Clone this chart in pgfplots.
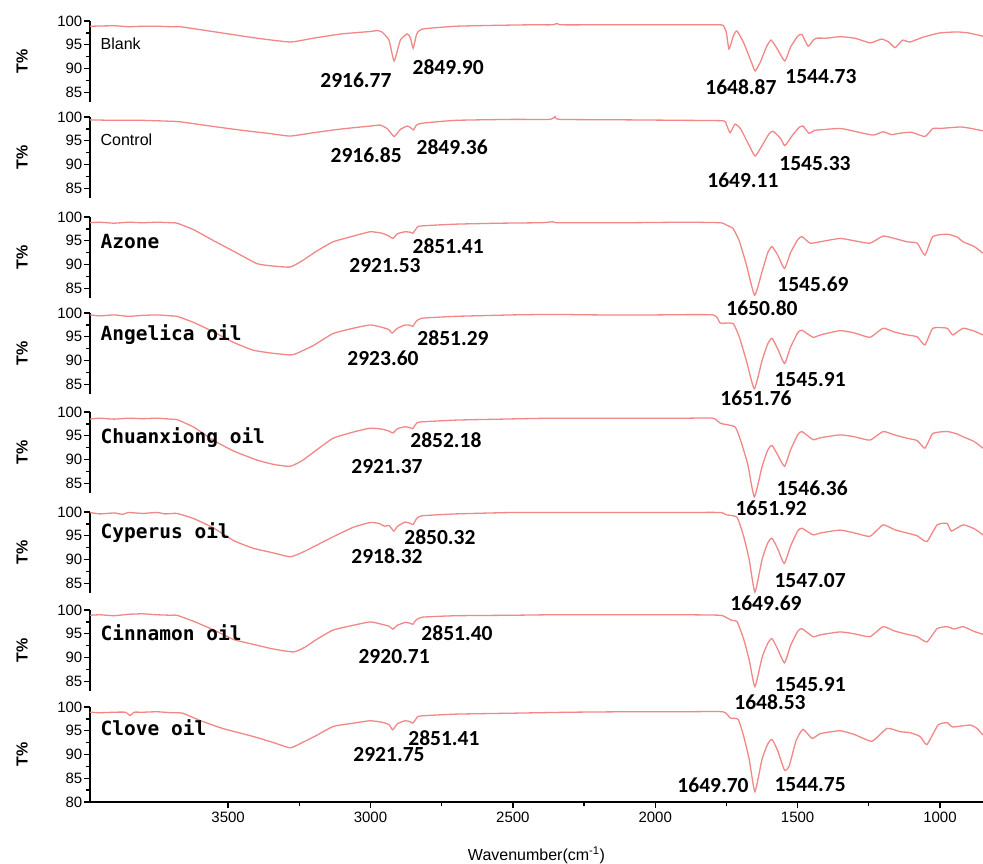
\documentclass[border=0pt]{standalone}
\usepackage{pgfplots}
\pgfplotsset{compat=1.18}
\usepackage{pgfplotstable}
\usepackage{fontspec}
\setmainfont{Liberation Sans}
\newfontfamily\numfont{Carlito}
\newfontfamily\monofont{DejaVu Sans Mono}
\definecolor{irred}{RGB}{242,135,135}
\newcommand\tickfont{\fontsize{15}{18}\selectfont}
\newcommand\labfont{\fontsize{16}{19}\selectfont\bfseries}
\newcommand\ann[1]{{\numfont\bfseries\fontsize{21.5}{24}\selectfont #1}}
\newcommand\mlab[1]{{\monofont\bfseries\fontsize{19.5}{22}\selectfont #1}}
\newcommand\slab[1]{{\fontsize{16}{19}\selectfont #1}}

\pgfplotstableread{
w T
3985 98.9
3900 99.0
3850 98.8
3800 98.9
3750 98.9
3700 98.8
3669 98.8
3600 98.2
3500 97.3
3400 96.4
3282 95.6
3200 96.4
3100 97.3
3000 97.8
2977 98.0
2960 97.7
2935 96.0
2917 91.6
2895 96.0
2871 97.3
2860 96.5
2850 94.3
2838 97.2
2819 98.3
2700 98.9
2550 99.1
2440 99.2
2360 99.2
2345 99.5
2330 99.2
2200 99.2
2000 99.2
1800 99.2
1762 99.1
1750 97.5
1741 94.1
1725 97.0
1713 97.9
1690 95.5
1660 91.0
1649 89.5
1630 91.5
1610 94.5
1593 96.0
1570 94.0
1545 91.6
1525 94.5
1500 96.8
1485 97.2
1463 94.7
1445 96.0
1432 96.4
1400 96.4
1351 96.7
1300 96.4
1246 95.4
1225 95.8
1204 96.2
1180 95.6
1158 94.4
1140 95.5
1130 96.0
1105 95.6
1060 96.6
1000 97.5
940 97.7
900 97.5
849 96.8
}\dA
\pgfplotstableread{
w T
3985 99.4
3900 99.3
3800 99.3
3700 99.1
3669 99.0
3550 98.0
3450 97.2
3350 96.5
3282 96.0
3200 96.7
3100 97.5
3000 98.1
2966 98.3
2940 97.5
2917 95.9
2895 97.4
2871 98.1
2860 97.8
2849 97.3
2838 98.3
2819 98.7
2700 99.3
2500 99.5
2370 99.5
2352 100.1
2335 99.5
2100 99.4
1900 99.3
1762 99.2
1750 98.4
1737 96.7
1720 98.5
1700 97.5
1670 94.0
1649 91.8
1625 94.0
1600 96.5
1586 97.0
1560 95.5
1545 94.0
1520 96.0
1495 97.8
1481 98.1
1460 96.6
1440 97.2
1421 97.3
1351 97.6
1300 97.0
1235 96.2
1200 96.9
1170 96.3
1140 96.6
1100 96.8
1053 95.9
1025 97.6
1000 97.6
930 97.9
900 97.7
849 97.1
}\dB
\pgfplotstableread{
w T
3985 98.8
3950 98.9
3900 98.7
3850 98.9
3800 98.8
3750 98.9
3700 98.8
3679 98.7
3620 97.3
3550 95.0
3480 92.8
3398 90.2
3340 89.7
3282 89.5
3240 90.8
3190 92.8
3131 94.8
3060 96.0
3001 96.9
2960 96.6
2935 96.0
2921 95.5
2905 96.5
2878 96.9
2860 96.8
2851 96.6
2840 97.5
2826 98.1
2700 98.5
2545 98.7
2400 98.8
2360 99.0
2340 98.8
2100 98.8
1900 98.9
1772 98.8
1750 98.3
1727 97.6
1705 95.0
1680 90.0
1651 83.6
1625 88.5
1605 92.5
1590 93.8
1570 92.0
1546 89.2
1525 92.5
1500 95.2
1485 95.9
1456 94.5
1421 94.8
1351 95.5
1300 95.0
1246 94.5
1200 96.0
1160 95.5
1116 94.8
1080 94.5
1053 92.0
1025 95.9
975 96.4
940 95.8
919 94.8
880 93.8
849 92.4
}\dC
\pgfplotstableread{
w T
3985 99.6
3950 99.4
3900 99.6
3850 99.3
3800 99.5
3750 99.6
3700 99.4
3679 99.3
3620 98.0
3550 96.0
3480 93.8
3412 92.2
3350 91.6
3282 91.2
3260 91.5
3200 93.2
3131 95.7
3060 96.8
3001 97.5
2960 97.0
2935 96.5
2924 95.8
2905 96.8
2878 97.5
2860 97.4
2851 97.2
2840 98.2
2820 98.9
2700 99.3
2500 99.6
2360 99.7
2200 99.6
2000 99.6
1797 99.6
1772 97.9
1727 97.8
1705 95.0
1680 90.0
1652 84.1
1625 90.0
1605 93.5
1590 94.7
1570 92.5
1546 89.4
1525 92.8
1500 95.8
1485 96.4
1446 94.9
1420 95.4
1351 96.3
1300 95.8
1246 94.9
1200 96.8
1160 96.0
1116 95.4
1080 95.0
1053 93.3
1025 96.8
975 96.8
955 95.4
919 96.8
880 96.2
849 95.4
}\dD
\pgfplotstableread{
w T
3985 98.5
3950 98.7
3900 98.5
3850 98.7
3800 98.6
3750 98.7
3700 98.5
3679 98.4
3620 96.8
3550 94.0
3480 91.8
3398 89.9
3340 89.0
3282 88.6
3240 89.8
3190 92.0
3131 94.5
3060 95.8
3001 96.6
2960 96.4
2935 96.0
2921 95.6
2905 96.5
2878 96.9
2860 96.7
2852 96.5
2840 97.5
2826 97.9
2700 98.3
2545 98.5
2360 98.7
2100 98.7
1900 98.7
1797 98.7
1770 97.6
1720 96.9
1700 94.0
1675 89.0
1652 82.2
1625 88.5
1605 92.0
1590 93.0
1570 91.0
1546 88.6
1525 92.0
1500 95.2
1485 95.9
1446 94.2
1420 94.6
1351 95.2
1300 94.8
1246 94.1
1200 95.9
1160 95.2
1116 94.5
1080 94.0
1053 92.4
1025 95.5
975 95.9
940 95.4
919 94.8
880 93.8
849 92.4
}\dE
\pgfplotstableread{
w T
3985 99.9
3950 99.6
3900 99.8
3870 99.5
3850 99.9
3800 99.7
3750 99.9
3720 99.6
3680 99.7
3620 98.6
3550 96.6
3480 94.0
3412 92.4
3340 91.4
3282 90.6
3240 91.5
3190 93.0
3131 94.8
3060 96.8
3001 97.8
2970 97.6
2950 97.0
2935 97.2
2918 96.0
2905 97.0
2878 97.9
2860 97.6
2850 97.4
2838 98.6
2820 99.2
2700 99.6
2500 99.9
2360 99.9
2100 99.9
1900 99.9
1772 99.9
1750 99.4
1713 98.9
1690 95.0
1670 90.0
1650 83.2
1625 90.0
1605 93.5
1590 94.5
1570 92.3
1547 89.2
1525 92.8
1500 96.0
1485 96.6
1446 95.2
1420 95.6
1351 96.2
1300 95.6
1246 94.9
1200 97.3
1160 96.3
1116 95.6
1080 95.0
1046 93.8
1010 97.3
975 97.6
960 96.0
919 97.3
880 96.5
849 95.2
}\dF
\pgfplotstableread{
w T
3985 98.9
3950 99.0
3900 98.8
3850 99.1
3800 99.2
3750 99.0
3700 98.9
3680 98.9
3620 97.6
3550 95.8
3480 93.8
3398 92.6
3340 91.8
3270 91.2
3230 92.2
3190 93.8
3131 95.8
3060 96.8
3001 97.5
2960 97.0
2935 96.6
2921 96.0
2905 96.8
2878 97.4
2860 97.2
2851 97.0
2840 97.9
2817 98.5
2700 98.8
2500 98.9
2360 99.0
2100 99.0
1900 99.0
1772 98.9
1750 98.4
1730 97.8
1713 97.6
1690 94.0
1670 89.5
1650 83.9
1625 90.0
1605 93.0
1590 94.0
1570 91.8
1546 88.9
1525 92.5
1500 95.5
1485 96.1
1446 94.4
1420 94.8
1351 95.4
1300 95.0
1246 94.4
1200 96.5
1160 95.6
1116 94.9
1080 94.4
1046 93.3
1010 96.1
975 96.5
950 96.0
919 96.5
880 95.5
849 94.9
}\dG
\pgfplotstableread{
w T
3985 98.9
3950 98.8
3900 98.9
3860 98.9
3844 98.2
3830 98.9
3800 98.9
3750 99.0
3700 98.8
3660 98.7
3600 97.2
3520 95.5
3412 93.8
3340 92.5
3282 91.4
3240 92.5
3190 94.0
3131 95.9
3060 96.6
3001 97.1
2960 96.8
2935 96.3
2922 95.2
2905 96.5
2878 97.1
2860 96.9
2851 96.6
2840 97.5
2826 98.1
2700 98.5
2500 98.7
2300 98.9
2100 99.0
1900 99.0
1762 99.0
1737 97.7
1709 97.4
1690 94.0
1670 89.0
1650 82.2
1625 89.0
1605 92.2
1590 93.2
1570 90.8
1546 86.7
1530 87.5
1505 93.0
1481 95.3
1449 93.4
1420 94.4
1351 95.0
1300 94.2
1239 92.8
1186 95.5
1140 94.8
1105 94.6
1070 93.8
1046 92.1
1007 96.2
975 96.7
955 95.8
895 96.2
870 95.5
849 94.1
}\dH

\pgfplotsset{
  panelbase/.style={
    scale only axis, width=893pt, height=81pt,
    xmin=849, xmax=3985, x dir=reverse,
    ymin=83, ymax=100,
    axis y line*=left,
    ytick={85,90,95,100}, minor y tick num=1,
    tick align=outside, major tick length=6pt, minor tick length=3.5pt,
    clip=false,
    /pgf/number format/assume math mode=true,
    /pgf/number format/1000 sep={},
    yticklabel style={font=\tickfont, inner sep=1.5pt},
    ylabel={T\%},
    ylabel style={font=\labfont, at={(axis description cs:-0.076,0.5)}, anchor=center, rotate=0},
    axis line style={line width=1.3pt, black},
    every tick/.style={black, line width=1.3pt},
    anchor=north west,
  },
  panel/.style={panelbase, axis x line=none},
  spec/.style={irred, line width=1.3pt, mark=none, smooth, tension=0.3},
}

\begin{document}
\begin{tikzpicture}
\path[use as bounding box] (0pt,0pt) rectangle (983pt,-864pt);

% 1 Blank
\begin{axis}[panel, at={(90pt,-21pt)}]
\addplot[spec] table[x=w,y=T] {\dA};
\node[anchor=west] at (axis cs:3960,95.2) {\slab{Blank}};
\node at (axis cs:3051,87.6) {\ann{2916.77}};
\node at (axis cs:2727,90.3) {\ann{2849.90}};
\node at (axis cs:1699,86.1) {\ann{1648.87}};
\node at (axis cs:1418,88.4) {\ann{1544.73}};
\end{axis}

% 2 Control
\begin{axis}[panel, at={(90pt,-117pt)}]
\addplot[spec] table[x=w,y=T] {\dB};
\node[anchor=west] at (axis cs:3960,95.2) {\slab{Control}};
\node at (axis cs:3015,92.0) {\ann{2916.85}};
\node at (axis cs:2713,93.7) {\ann{2849.36}};
\node at (axis cs:1692,86.7) {\ann{1649.11}};
\node at (axis cs:1439,90.3) {\ann{1545.33}};
\end{axis}

% 3 Azone
\begin{axis}[panel, at={(90pt,-217pt)}]
\addplot[spec] table[x=w,y=T] {\dC};
\node[anchor=west] at (axis cs:3960,94.8) {\mlab{Azone}};
\node at (axis cs:2727,93.8) {\ann{2851.41}};
\node at (axis cs:2949,89.9) {\ann{2921.53}};
\node at (axis cs:1625,80.8) {\ann{1650.80}};
\node at (axis cs:1446,85.9) {\ann{1545.69}};
\end{axis}

% 4 Angelica
\begin{axis}[panel, at={(90pt,-313pt)}]
\addplot[spec] table[x=w,y=T] {\dD};
\node[anchor=west] at (axis cs:3960,95.4) {\mlab{Angelica oil}};
\node at (axis cs:2710,94.7) {\ann{2851.29}};
\node at (axis cs:2956,90.5) {\ann{2923.60}};
\node at (axis cs:1646,82.1) {\ann{1651.76}};
\node at (axis cs:1456,86.1) {\ann{1545.91}};
\end{axis}

% 5 Chuanxiong
\begin{axis}[panel, at={(90pt,-412pt)}]
\addplot[spec] table[x=w,y=T] {\dE};
\node[anchor=west] at (axis cs:3960,94.7) {\mlab{Chuanxiong oil}};
\node at (axis cs:2735,94.0) {\ann{2852.18}};
\node at (axis cs:2942,88.6) {\ann{2921.37}};
\node at (axis cs:1449,84.0) {\ann{1546.36}};
\node at (axis cs:1593,79.8) {\ann{1651.92}};
\end{axis}

% 6 Cyperus
\begin{axis}[panel, at={(90pt,-512pt)}]
\addplot[spec] table[x=w,y=T] {\dF};
\node[anchor=west] at (axis cs:3960,95.6) {\mlab{Cyperus oil}};
\node at (axis cs:2756,94.8) {\ann{2850.32}};
\node at (axis cs:2942,90.7) {\ann{2918.32}};
\node at (axis cs:1456,85.7) {\ann{1547.07}};
\node at (axis cs:1611,80.9) {\ann{1649.69}};
\end{axis}

% 7 Cinnamon
\begin{axis}[panel, at={(90pt,-610pt)}]
\addplot[spec] table[x=w,y=T] {\dG};
\node[anchor=west] at (axis cs:3960,95.2) {\mlab{Cinnamon oil}};
\node at (axis cs:2696,95.1) {\ann{2851.40}};
\node at (axis cs:2917,90.3) {\ann{2920.71}};
\node at (axis cs:1456,84.4) {\ann{1545.91}};
\node at (axis cs:1597,80.7) {\ann{1648.53}};
\end{axis}

% 8 Clove
\begin{axis}[panelbase, at={(90pt,-707pt)}, height=95pt, ymin=80,
  ytick={80,85,90,95,100},
  axis x line*=bottom,
  xtick={1000,1500,2000,2500,3000,3500}, minor x tick num=1,
  xticklabel style={font=\tickfont},
  xlabel={Wavenumber(cm\textsuperscript{-1})},
  xlabel style={font=\fontsize{16}{19}\selectfont, at={(axis description cs:0.5,0)}, anchor=center, yshift=-53pt},
  ]
\addplot[spec] table[x=w,y=T] {\dH};
\node[anchor=west] at (axis cs:3960,95.6) {\mlab{Clove oil}};
\node at (axis cs:2742,93.4) {\ann{2851.41}};
\node at (axis cs:2935,89.9) {\ann{2921.75}};
\node at (axis cs:1797,83.6) {\ann{1649.70}};
\node at (axis cs:1456,83.6) {\ann{1544.75}};
\end{axis}
\end{tikzpicture}
\end{document}
